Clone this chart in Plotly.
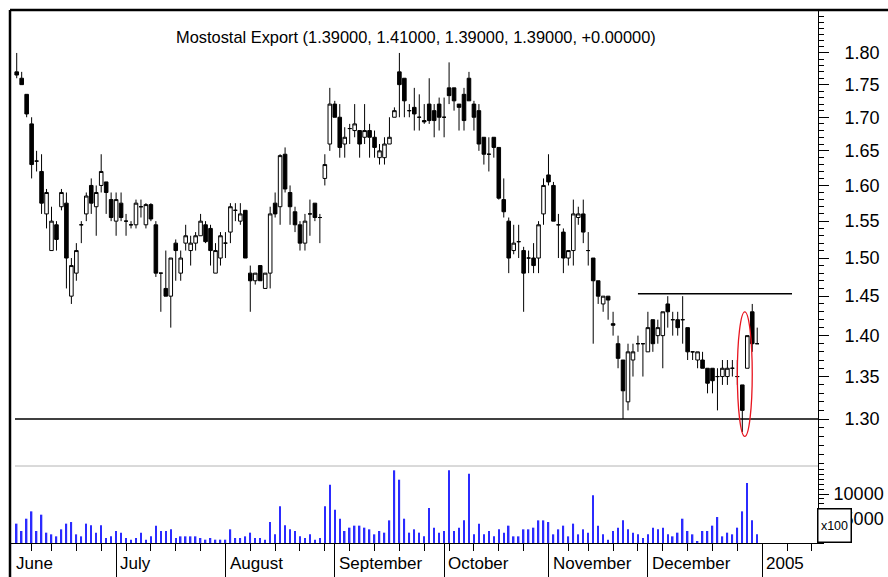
import numpy as np
import pandas as pd
import plotly.graph_objects as go

# ---------------- data ----------------
title_text = "Mostostal Export (1.39000, 1.41000, 1.39000, 1.39000, +0.00000)"

opens = [1.77, 1.76, 1.735, 1.69, 1.635, 1.62, 1.56, 1.51, 1.545, 1.57,
         1.575, 1.45, 1.48, 1.545, 1.56, 1.60, 1.57, 1.60, 1.605, 1.58,
         1.55, 1.575, 1.55, 1.545, 1.545, 1.57, 1.545, 1.573, 1.545, 1.48,
         1.46, 1.45, 1.52, 1.48, 1.52, 1.51, 1.52, 1.53, 1.545, 1.54,
         1.48, 1.50, 1.52, 1.535, 1.565, 1.55, 1.565, 1.48, 1.47, 1.49,
         1.46, 1.48, 1.575, 1.57, 1.645, 1.59, 1.563, 1.545, 1.52, 1.56,
         1.575, 1.555, 1.61, 1.66, 1.72, 1.70, 1.66, 1.683, 1.68, 1.68,
         1.67, 1.68, 1.67, 1.64, 1.64, 1.66, 1.70, 1.77, 1.76, 1.71,
         1.715, 1.70, 1.695, 1.72, 1.71, 1.72, 1.70, 1.745, 1.745, 1.72,
         1.735, 1.76, 1.72, 1.71, 1.67, 1.645, 1.67, 1.655, 1.58, 1.55,
         1.51, 1.522, 1.51, 1.50, 1.50, 1.50, 1.56, 1.615, 1.60, 1.545,
         1.535, 1.50, 1.51, 1.555, 1.56, 1.51, 1.50, 1.47, 1.44, 1.45,
         1.415, 1.39, 1.37, 1.32, 1.37, 1.39, 1.39, 1.38, 1.42, 1.40,
         1.40, 1.44, 1.42, 1.42, 1.42, 1.41, 1.38, 1.37, 1.37, 1.36,
         1.36, 1.35, 1.35, 1.35, 1.36, 1.35, 1.34, 1.36, 1.43, 1.39]
highs = [1.80, 1.77, 1.735, 1.70, 1.65, 1.645, 1.595, 1.57, 1.55, 1.595,
         1.59, 1.50, 1.52, 1.55, 1.59, 1.61, 1.60, 1.645, 1.605, 1.59,
         1.59, 1.59, 1.56, 1.55, 1.58, 1.58, 1.575, 1.575, 1.55, 1.48,
         1.51, 1.50, 1.525, 1.51, 1.545, 1.53, 1.535, 1.56, 1.55, 1.545,
         1.52, 1.535, 1.535, 1.575, 1.575, 1.575, 1.565, 1.49, 1.48, 1.49,
         1.48, 1.57, 1.59, 1.645, 1.655, 1.60, 1.57, 1.55, 1.56, 1.58,
         1.575, 1.56, 1.645, 1.745, 1.725, 1.72, 1.685, 1.69, 1.72, 1.68,
         1.72, 1.69, 1.68, 1.66, 1.67, 1.70, 1.715, 1.80, 1.76, 1.72,
         1.745, 1.735, 1.72, 1.76, 1.72, 1.73, 1.73, 1.785, 1.745, 1.72,
         1.745, 1.77, 1.725, 1.72, 1.67, 1.67, 1.67, 1.655, 1.61, 1.555,
         1.545, 1.545, 1.515, 1.51, 1.52, 1.55, 1.61, 1.645, 1.605, 1.56,
         1.54, 1.51, 1.58, 1.57, 1.58, 1.535, 1.50, 1.47, 1.45, 1.45,
         1.43, 1.40, 1.37, 1.39, 1.39, 1.40, 1.39, 1.43, 1.42, 1.42,
         1.43, 1.45, 1.43, 1.43, 1.45, 1.41, 1.38, 1.38, 1.38, 1.36,
         1.36, 1.36, 1.37, 1.37, 1.37, 1.37, 1.34, 1.40, 1.44, 1.41]
lows = [1.76, 1.75, 1.70, 1.61, 1.62, 1.56, 1.54, 1.51, 1.51, 1.565,
        1.46, 1.44, 1.47, 1.52, 1.55, 1.56, 1.53, 1.59, 1.56, 1.55,
        1.53, 1.55, 1.53, 1.54, 1.54, 1.555, 1.54, 1.55, 1.475, 1.43,
        1.45, 1.41, 1.47, 1.47, 1.51, 1.49, 1.51, 1.53, 1.52, 1.49,
        1.48, 1.49, 1.50, 1.52, 1.55, 1.545, 1.50, 1.43, 1.465, 1.47,
        1.46, 1.46, 1.555, 1.545, 1.59, 1.545, 1.535, 1.51, 1.51, 1.53,
        1.55, 1.52, 1.60, 1.65, 1.70, 1.64, 1.64, 1.66, 1.67, 1.64,
        1.66, 1.64, 1.64, 1.63, 1.63, 1.66, 1.70, 1.70, 1.70, 1.70,
        1.68, 1.68, 1.69, 1.69, 1.67, 1.68, 1.67, 1.72, 1.71, 1.68,
        1.68, 1.725, 1.68, 1.65, 1.63, 1.62, 1.64, 1.58, 1.555, 1.48,
        1.505, 1.50, 1.43, 1.48, 1.48, 1.48, 1.545, 1.60, 1.55, 1.50,
        1.48, 1.49, 1.49, 1.545, 1.52, 1.49, 1.39, 1.44, 1.43, 1.42,
        1.40, 1.36, 1.30, 1.31, 1.35, 1.38, 1.35, 1.38, 1.38, 1.39,
        1.36, 1.41, 1.40, 1.40, 1.39, 1.37, 1.37, 1.36, 1.36, 1.33,
        1.33, 1.31, 1.34, 1.34, 1.35, 1.34, 1.285, 1.36, 1.38, 1.39]
closes = [1.765, 1.75, 1.705, 1.63, 1.635, 1.575, 1.59, 1.55, 1.525, 1.59,
          1.50, 1.49, 1.51, 1.545, 1.585, 1.575, 1.59, 1.62, 1.59, 1.555,
          1.58, 1.555, 1.55, 1.545, 1.575, 1.57, 1.573, 1.553, 1.48, 1.48,
          1.45, 1.50, 1.51, 1.50, 1.53, 1.52, 1.53, 1.55, 1.522, 1.51,
          1.51, 1.53, 1.52, 1.57, 1.565, 1.56, 1.50, 1.47, 1.48, 1.47,
          1.48, 1.56, 1.56, 1.643, 1.595, 1.57, 1.545, 1.52, 1.55, 1.56,
          1.555, 1.555, 1.63, 1.72, 1.70, 1.655, 1.67, 1.683, 1.69, 1.66,
          1.68, 1.67, 1.655, 1.65, 1.66, 1.67, 1.71, 1.75, 1.725, 1.71,
          1.705, 1.70, 1.693, 1.695, 1.695, 1.70, 1.70, 1.733, 1.725, 1.715,
          1.695, 1.725, 1.70, 1.66, 1.645, 1.645, 1.655, 1.582, 1.563, 1.50,
          1.52, 1.522, 1.48, 1.50, 1.49, 1.545, 1.60, 1.605, 1.55, 1.545,
          1.50, 1.51, 1.56, 1.56, 1.535, 1.51, 1.47, 1.45, 1.45, 1.445,
          1.413, 1.372, 1.333, 1.38, 1.38, 1.39, 1.39, 1.41, 1.39, 1.41,
          1.43, 1.43, 1.42, 1.41, 1.42, 1.38, 1.38, 1.38, 1.36, 1.342,
          1.345, 1.35, 1.36, 1.36, 1.36, 1.35, 1.31, 1.40, 1.39, 1.39]
volumes = [3950, 2450, 4960, 6460, 2450, 5780, 2110, 1770, 1360, 2790,
           3950, 4280, 1770, 1360, 3950, 3600, 2110, 3600, 1020, 1360,
           2450, 2110, 1020, 680, 1020, 2110, 680, 1360, 3540, 2450,
           2450, 2790, 1020, 1360, 1360, 1360, 1360, 1020, 680, 1020,
           680, 680, 680, 2790, 1020, 1020, 1360, 2110, 1020, 1020,
           680, 4280, 1770, 7480, 3600, 2790, 2450, 1360, 1020, 1770,
           680, 1020, 7480, 11900, 6800, 4960, 2450, 3130, 3540, 3540,
           3130, 2790, 1770, 2450, 2110, 4620, 14830, 12920, 4960, 2110,
           2790, 2110, 1360, 7140, 3130, 2110, 2450, 14830, 2450, 3130,
           4620, 14150, 1770, 3950, 1770, 2450, 1360, 2790, 2110, 3540,
           1360, 1360, 2790, 2790, 3130, 4620, 4620, 4280, 1770, 2790,
           3540, 1360, 3950, 1770, 2790, 2110, 9720, 3540, 1770, 680,
           2450, 3130, 4620, 2790, 2110, 1770, 1020, 1770, 3130, 2790,
           3130, 1770, 1360, 2110, 4960, 2450, 1770, 340, 2450, 2450,
           3540, 5300, 1360, 2110, 1770, 3130, 6460, 12240, 4620, 1770]

price_ticks = [1.30, 1.35, 1.40, 1.45, 1.50, 1.55, 1.60, 1.65, 1.70, 1.75, 1.80]
price_tick_labels = ["1.30", "1.35", "1.40", "1.45", "1.50", "1.55",
                     "1.60", "1.65", "1.70", "1.75", "1.80"]
volume_ticks = [5000, 10000]
volume_tick_labels = ["\u20075000", "10000"]   # figure space keeps digits right-aligned
volume_unit_label = "x100"
month_labels = ["June", "July", "August", "September", "October",
                "November", "December", "2005"]

support_level = 1.30
resistance_level = 1.453
resistance_from, resistance_to = "2004-11-29", "2005-01-11"
highlight_from, highlight_to = "2004-12-27", "2004-12-30"
highlight_low, highlight_high = 1.28, 1.43

# trading calendar (Warsaw, no session on the listed holidays)
holidays = pd.to_datetime(["2004-06-10", "2004-11-01", "2004-11-11"])
cal = pd.bdate_range("2004-06-01", "2005-01-21")
cal = cal[~cal.isin(holidays)]
cal_pos = np.arange(len(cal)) - 1          # 2004-06-01 sits one slot before the data
first_data = 1                             # data begins 2004-06-02
x_data = cal_pos[first_data:first_data + len(opens)]


def pos_of(day):
    return float(cal_pos[cal.get_loc(pd.Timestamp(day))])


month_start = [cal_pos[0]] + [cal_pos[i] for i in range(1, len(cal))
                              if cal[i].month != cal[i - 1].month]
month_tick_pos = month_start[1:]
week_tick_pos = [cal_pos[i] for i in range(len(cal))
                 if cal[i].weekday() == 0 and cal_pos[i] not in month_tick_pos]

# ---------------- figure ----------------
FONT = "Liberation Sans, Arial, sans-serif"
W, H = 888, 577
ML, MR, MT, MB = 10, 70, 10, 34
PW, PH = W - ML - MR, H - MT - MB
split = (H - MB - 466) / PH

fig = go.Figure()
fig.add_trace(go.Candlestick(
    x=x_data, open=opens, high=highs, low=lows, close=closes,
    xaxis="x", yaxis="y", hoverinfo="skip", showlegend=False,
    increasing=dict(fillcolor="white", line=dict(color="black", width=1)),
    decreasing=dict(fillcolor="black", line=dict(color="black", width=1)),
    whiskerwidth=0,
))
fig.add_trace(go.Bar(
    x=x_data, y=volumes, xaxis="x2", yaxis="y2", width=0.3,
    marker=dict(color="#2b2bff", line=dict(width=0)),
    hoverinfo="skip", showlegend=False,
))

x_range = [-1.35, 161.23]
fig.update_layout(
    template="none",
    width=W, height=H, autosize=False,
    margin=dict(l=ML, r=MR, t=MT, b=MB, pad=0, autoexpand=False),
    paper_bgcolor="white", plot_bgcolor="white",
    font=dict(family=FONT, color="black", size=18),
    boxgap=0.2, boxgroupgap=0.1, showlegend=False,
    xaxis=dict(domain=[0, 1], range=x_range, anchor="y", showgrid=False,
               automargin=False,
               zeroline=False, showticklabels=False, ticks="", showline=False,
               rangeslider=dict(visible=False)),
    xaxis2=dict(domain=[0, 1], range=x_range, anchor="y2", showgrid=False,
                automargin=False,
                zeroline=False, showticklabels=False, showline=True,
                linecolor="black", linewidth=1,
                tickmode="array", tickvals=month_tick_pos, ticks="outside",
                ticklen=34, tickcolor="black", tickwidth=1,
                minor=dict(tickmode="array", tickvals=week_tick_pos,
                           ticks="outside", ticklen=7, tickcolor="black",
                           tickwidth=1, showgrid=False)),
    yaxis=dict(domain=[split, 1], type="log",
               range=[np.log10(1.30) - 47 / 2590, np.log10(1.30) + 409 / 2590],
               anchor="x", side="right", showgrid=False, zeroline=False,
               automargin=False,
               showline=True, linecolor="black", linewidth=1,
               tickmode="array", tickvals=price_ticks, ticktext=price_tick_labels,
               ticks="outside", ticklen=10, tickcolor="black", tickwidth=1,
               ticklabelstandoff=12,
               tickfont=dict(size=18, family=FONT),
               minor=dict(dtick="L0.01", tick0=1.0, ticks="outside", ticklen=5,
                          tickcolor="black", tickwidth=1, showgrid=False)),
    yaxis2=dict(domain=[0, split], range=[0, 15714], anchor="x2", side="right",
                showgrid=False, zeroline=False, showline=True,
                automargin=False,
                linecolor="black", linewidth=1,
                tickmode="array", tickvals=volume_ticks,
                ticktext=volume_tick_labels, ticks="outside", ticklen=10,
                tickcolor="black", tickwidth=1, ticklabelstandoff=1,
                tickfont=dict(size=18, family=FONT),
                minor=dict(dtick=1000, tick0=0, ticks="outside", ticklen=5,
                           tickcolor="black", tickwidth=1, showgrid=False)),
)

shapes = []
# frame (top and left edges)
shapes.append(dict(type="line", xref="paper", yref="paper", x0=0, x1=(W - ML) / PW,
                   y0=1, y1=1, line=dict(color="black", width=2.5)))
shapes.append(dict(type="line", xref="paper", yref="paper", x0=0, x1=0,
                   y0=1, y1=-MB / PH, line=dict(color="black", width=2.5)))
# separator between price and volume panels
shapes.append(dict(type="line", xref="paper", yref="paper", x0=5 / PW, x1=1,
                   y0=split, y1=split, line=dict(color="#b4b4b4", width=1)))
# support / resistance
shapes.append(dict(type="line", xref="x domain", yref="y", x0=5 / PW, x1=1,
                   y0=support_level, y1=support_level,
                   line=dict(color="black", width=1.5)))
shapes.append(dict(type="line", xref="x", yref="y",
                   x0=pos_of(resistance_from), x1=pos_of(resistance_to),
                   y0=resistance_level, y1=resistance_level,
                   line=dict(color="black", width=1.5)))
# highlight ellipse
shapes.append(dict(type="circle", xref="x", yref="y",
                   x0=pos_of(highlight_from), x1=pos_of(highlight_to),
                   y0=highlight_low, y1=highlight_high,
                   line=dict(color="#e8141e", width=1.3)))
fig.update_layout(shapes=shapes)

annotations = [dict(text=title_text, xref="paper", yref="paper",
                    x=(416 - ML) / PW, y=(H - MB - 37) / PH,
                    xanchor="center", yanchor="middle", showarrow=False,
                    font=dict(size=16.4, family=FONT, color="black"))]
for name, mpos in zip(month_labels, month_start):
    annotations.append(dict(text=name, xref="x2", yref="paper", x=mpos + 0.45,
                            y=-20 / PH, xanchor="left", yanchor="middle",
                            showarrow=False,
                            font=dict(size=17, family=FONT, color="black")))
annotations.append(dict(text=volume_unit_label, xref="paper", yref="paper",
                        x=(835 - ML) / PW, y=(H - MB - 525) / PH,
                        xanchor="center", yanchor="middle", showarrow=False,
                        width=30, height=30, align="center", valign="middle",
                        bgcolor="white",
                        bordercolor="black", borderwidth=1.5, borderpad=1,
                        font=dict(size=12.5, family=FONT, color="black")))
fig.update_layout(annotations=annotations)

fig.write_html(
    "out.html",
    config={"displayModeBar": False},
    post_script="document.body.style.margin='0';"
                "document.documentElement.style.overflow='hidden';",
)
